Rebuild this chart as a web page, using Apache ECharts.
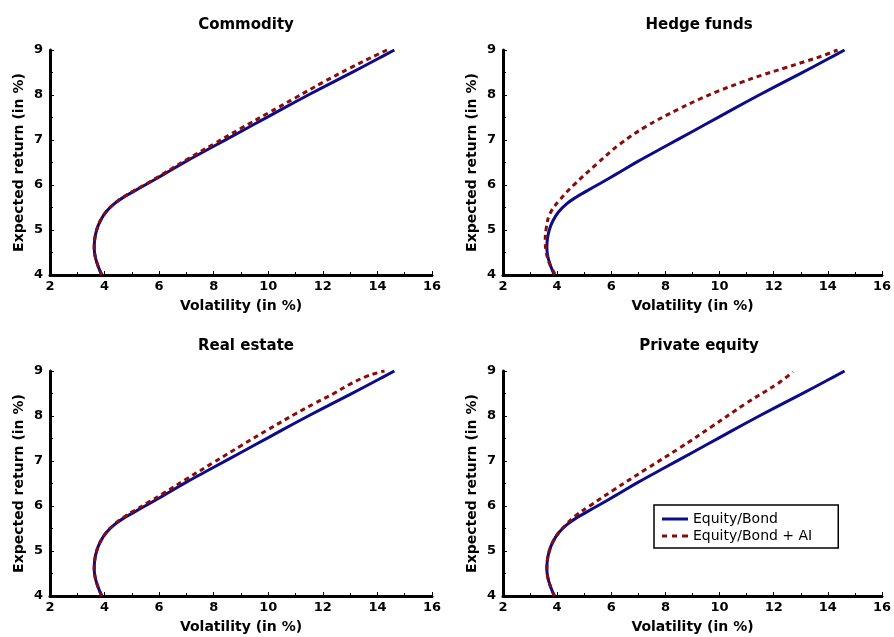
<!DOCTYPE html>
<html><head><meta charset="utf-8">
<script src="https://cdn.jsdelivr.net/npm/echarts@6/dist/echarts.min.js"></script>
<style>html,body{margin:0;padding:0;background:#fff}#c{width:894px;height:637px}</style>
</head><body><div id="c"></div>
<script>
var panelTitles = ['Commodity', 'Hedge funds', 'Real estate', 'Private equity'];
var xTicks = [2, 4, 6, 8, 10, 12, 14, 16];
var yTicks = [4, 5, 6, 7, 8, 9];
// Equity/Bond frontier: [volatility, expected return]
var equityBond = [[3.9,4.0],[3.76,4.2],[3.66,4.4],[3.62,4.6],[3.64,4.8],[3.71,5.0],[3.84,5.2],[4.05,5.4],[4.35,5.58],[4.7,5.73],[5.1,5.87],[5.6,6.04],[6.15,6.23],[7.0,6.53],[8.0,6.86],[9.0,7.19],[10.0,7.52],[11.0,7.85],[12.0,8.17],[13.0,8.48],[14.0,8.8],[14.62,9.0]];
// Equity/Bond + AI frontiers
var commodityAI = [[3.9,4.0],[3.76,4.2],[3.66,4.4],[3.62,4.6],[3.64,4.8],[3.71,5.0],[3.84,5.2],[4.05,5.4],[4.35,5.58],[4.7,5.74],[5.1,5.88],[5.6,6.05],[6.15,6.25],[7.0,6.56],[8.0,6.91],[9.0,7.26],[10.0,7.6],[11.0,7.94],[12.0,8.28],[13.0,8.6],[14.0,8.9],[14.35,9.0]];
var hedgeAI = [[3.92,4.02],[3.72,4.25],[3.6,4.5],[3.56,4.75],[3.6,5.05],[3.74,5.37],[4.1,5.67],[4.65,6.02],[5.45,6.46],[6.3,6.9],[7.28,7.3],[8.5,7.69],[9.23,7.9],[9.97,8.09],[10.8,8.28],[11.56,8.44],[12.4,8.6],[13.14,8.74],[13.8,8.87],[14.36,9.0]];
var realEstateAI = [[3.9,4.0],[3.76,4.2],[3.66,4.4],[3.62,4.6],[3.64,4.8],[3.71,5.0],[3.84,5.2],[4.05,5.4],[4.35,5.59],[4.7,5.75],[5.1,5.9],[5.6,6.08],[6.15,6.28],[7.0,6.6],[8.0,6.97],[9.0,7.34],[10.0,7.7],[11.0,8.05],[11.7,8.28],[12.4,8.5],[13.0,8.71],[13.6,8.88],[14.0,8.96],[14.26,9.0]];
var privateEquityAI = [[3.9,4.0],[3.76,4.2],[3.66,4.4],[3.62,4.6],[3.64,4.8],[3.71,5.0],[3.84,5.2],[4.05,5.4],[4.35,5.6],[4.65,5.77],[5.2,6.0],[6.07,6.35],[7.29,6.82],[8.5,7.28],[9.73,7.77],[10.95,8.27],[12.17,8.73],[12.71,8.98]];
var aiSeries = [commodityAI, hedgeAI, realEstateAI, privateEquityAI];
var seriesNames = ['Equity/Bond', 'Equity/Bond + AI'];

var FONT = 'DejaVu Sans';
var BLUE = '#0b0b8c', RED = '#8b0a0a';
var grids = [
  {left: 50, top: 50, width: 382, height: 225},
  {left: 503, top: 50, width: 382, height: 225},
  {left: 50, top: 371, width: 382, height: 225},
  {left: 503, top: 371, width: 382, height: 225}
];
var xAxes = [], yAxes = [], series = [], titles = [];
grids.forEach(function (g, i) {
  titles.push({
    text: panelTitles[i], left: g.left + g.width / 2, top: g.top - 37, textAlign: 'center',
    textStyle: {fontFamily: FONT, fontSize: 15, fontWeight: 'bold', color: '#000'}
  });
  xAxes.push({
    type: 'value', gridIndex: i, min: xTicks[0], max: xTicks[xTicks.length - 1], interval: 2,
    name: 'Volatility (in %)', nameLocation: 'middle', nameGap: 24,
    nameTextStyle: {fontFamily: FONT, fontSize: 14, fontWeight: 'bold', color: '#000'},
    axisLine: {lineStyle: {color: '#000', width: 3}},
    axisTick: {inside: true, length: 4, lineStyle: {color: '#000', width: 1}},
    minorTick: {show: true, splitNumber: 2, length: 3, lineStyle: {color: '#000'}},
    splitLine: {show: false},
    axisLabel: {margin: 5, fontFamily: FONT, fontSize: 13, fontWeight: 'bold', color: '#000'}
  });
  yAxes.push({
    type: 'value', gridIndex: i, min: yTicks[0], max: yTicks[yTicks.length - 1], interval: 1,
    name: 'Expected return (in %)', nameLocation: 'middle', nameGap: 24, nameRotate: 90,
    nameTextStyle: {fontFamily: FONT, fontSize: 14, fontWeight: 'bold', color: '#000'},
    axisLine: {show: true, lineStyle: {color: '#000', width: 3}},
    axisTick: {show: true, inside: true, length: 4, lineStyle: {color: '#000', width: 1}},
    minorTick: {show: true, splitNumber: 2, length: 3, lineStyle: {color: '#000'}},
    splitLine: {show: false},
    axisLabel: {margin: 7, fontFamily: FONT, fontSize: 13, fontWeight: 'bold', color: '#000'}
  });
  series.push({
    name: seriesNames[0], type: 'line', xAxisIndex: i, yAxisIndex: i, data: equityBond,
    showSymbol: false, symbol: 'none', smooth: 0.4, silent: true,
    lineStyle: {color: BLUE, width: 3}, itemStyle: {color: BLUE}, z: 2
  });
  series.push({
    name: seriesNames[1], type: 'line', xAxisIndex: i, yAxisIndex: i, data: aiSeries[i],
    showSymbol: false, symbol: 'none', smooth: 0.4, silent: true,
    lineStyle: {color: RED, width: 3, type: [5, 4]}, itemStyle: {color: RED}, z: 3
  });
});

var chart = echarts.init(document.getElementById('c'), null, {renderer: 'canvas'});
chart.setOption({
  animation: false,
  backgroundColor: '#fff',
  title: titles,
  grid: grids,
  xAxis: xAxes,
  yAxis: yAxes,
  legend: {
    data: [
      {name: seriesNames[0], icon: 'path://M0 0H26V3H0Z', itemStyle: {color: BLUE}},
      {name: seriesNames[1], icon: 'path://M0 0H5V3H0Z M10 0H15V3H10Z M20 0H26V3H20Z', itemStyle: {color: RED}}
    ],
    orient: 'vertical', left: 654, top: 505,
    borderColor: '#000', borderWidth: 1.5, padding: [6, 26, 4, 8], itemGap: 1,
    itemWidth: 26, itemHeight: 3,
    textStyle: {fontFamily: FONT, fontSize: 14, color: '#000', lineHeight: 16, padding: [0, 0, 0, 0]}
  },
  series: series
});
</script></body></html>
